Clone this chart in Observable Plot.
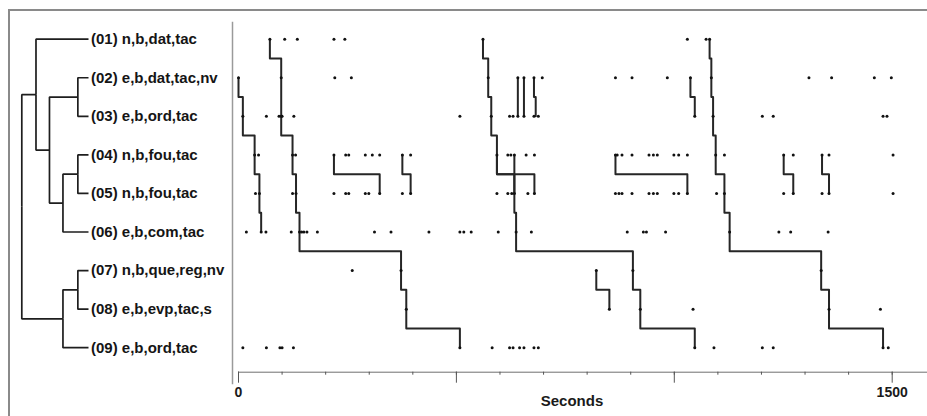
<!DOCTYPE html>
<html>
<head>
<meta charset="utf-8">
<script src="https://cdn.jsdelivr.net/npm/d3@7"></script>
<script src="https://cdn.jsdelivr.net/npm/@observablehq/plot@0.6"></script>
<style>
  html, body { margin: 0; padding: 0; background: #fff; }
  #chart { position: relative; width: 927px; height: 416px; overflow: hidden; background: #fff; }
  #chart .box { position: absolute; left: 8px; top: 9px; width: 1000px; height: 500px;
    border-left: 2px solid #8a8a8a; border-top: 2px solid #8a8a8a; pointer-events: none; }
  #chart svg { position: absolute; top: 0; }
</style>
</head>
<body>
<div id="chart"><div class="box"></div></div>
<script>
// Event types (one row each), in dendrogram order
const rowLabels = [
  "(01) n,b,dat,tac",
  "(02) e,b,dat,tac,nv",
  "(03) e,b,ord,tac",
  "(04) n,b,fou,tac",
  "(05) n,b,fou,tac",
  "(06) e,b,com,tac",
  "(07) n,b,que,reg,nv",
  "(08) e,b,evp,tac,s",
  "(09) e,b,ord,tac"
];

// Hierarchical clustering of the event types: child A, child B, merge height
const mergeIds    = ["A", "B", "C", "D", "E", "F", "G", "H"];
const mergeLeft   = [2, 4, 7, "B", "C", "A", 1, "G"];
const mergeRight  = [3, 5, 8, 6, 9, "D", "F", "E"];
const mergeHeight = [0.75, 0.75, 0.75, 1.8, 1.8, 2.75, 3.7, 4.7];

// Event occurrence times (seconds) for each row
const row01 = [72, 106, 135, 219, 244, 561, 1030, 1073, 1081];
const row02 = [0, 98, 221, 259, 573, 641, 655, 678, 697, 865, 903, 984, 1037, 1085, 1309, 1361, 1459, 1498];
const row03 = [10, 64, 93, 98, 100, 127, 508, 580, 622, 630, 641, 655, 678, 688, 1047, 1089, 1202, 1227, 1479, 1488];
const row04 = [37, 46, 124, 131, 219, 246, 253, 291, 307, 324, 376, 395, 593, 618, 625, 633, 660, 679,
               865, 869, 880, 903, 942, 952, 961, 999, 1010, 1030, 1095, 1115, 1251, 1273, 1339, 1355, 1502];
const row05 = [39, 48, 124, 132, 219, 246, 253, 291, 299, 324, 376, 395, 593, 618, 627, 633, 664, 679,
               865, 873, 880, 903, 942, 952, 961, 999, 1010, 1030, 1097, 1115, 1251, 1273, 1339, 1355, 1502];
const row06 = [18, 52, 63, 121, 140, 145, 150, 157, 181, 312, 350, 437, 508, 517, 534, 596, 637, 672,
               892, 929, 936, 980, 1127, 1240, 1267, 1353];
const row07 = [261, 373, 821, 905, 1337];
const row08 = [385, 851, 922, 1043, 1355, 1473];
const row09 = [10, 64, 95, 100, 126, 508, 582, 622, 630, 645, 655, 678, 688, 1047, 1091, 1202, 1227, 1479, 1491];
const rowEvents = [row01, row02, row03, row04, row05, row06, row07, row08, row09];

// Pattern occurrences: sequences of [row, time]
const occurrences = [
  [[2, 0], [3, 10], [4, 37], [5, 48], [6, 52]],
  [[1, 72], [2, 98], [3, 98], [4, 124], [5, 132], [6, 140], [7, 373], [8, 385], [9, 508]],
  [[1, 561], [2, 573], [3, 580], [4, 593], [5, 633], [6, 637], [7, 905], [8, 922], [9, 1047]],
  [[1, 1081], [2, 1085], [3, 1089], [4, 1095], [5, 1115], [6, 1127], [7, 1337], [8, 1355], [9, 1479]],
  [[2, 641], [3, 641]],
  [[2, 655], [3, 655]],
  [[2, 678], [3, 682]],
  [[2, 1037], [3, 1047]],
  [[4, 219], [5, 324]],
  [[4, 376], [5, 395]],
  [[4, 593], [5, 679]],
  [[4, 633], [5, 633]],
  [[4, 865], [5, 1030]],
  [[4, 1251], [5, 1273]],
  [[4, 1339], [5, 1355]],
  [[7, 821], [8, 851]]
];

// Axis ticks
const minorTicks = [0, 100, 200, 300, 400, 500, 600, 700, 800, 900, 1000, 1100, 1200, 1300, 1400, 1500];
const majorTicks = [0, 500, 1000, 1500];
const tickLabels = [0, 1500];
const xLabel = "Seconds";

const font = "'Liberation Sans', Arial, sans-serif";
const yScale = {domain: [1, 9], range: [38.7, 347.2], axis: null};

// ---- dendrogram ----
const nodes = new Map();
rowLabels.forEach((label, i) => nodes.set(i + 1, {h: 0, y: i + 1}));
const links = [];
mergeIds.forEach((id, i) => {
  const a = nodes.get(mergeLeft[i]), b = nodes.get(mergeRight[i]);
  const n = {h: mergeHeight[i], y: (a.y + b.y) / 2};
  nodes.set(id, n);
  links.push({x1: n.h, y1: n.y, x2: a.h, y2: a.y});
  links.push({x1: n.h, y1: n.y, x2: b.h, y2: b.y});
});
const leaves = rowLabels.map((label, i) => ({label, row: i + 1, h: 0}));

const tree = Plot.plot({
  width: 233, height: 416,
  marginLeft: 0, marginRight: 1, marginTop: 22, marginBottom: 33,
  x: {domain: [0, 4.7], range: [88, 21.3], axis: null},
  y: yScale,
  style: {fontFamily: font, background: "transparent", overflow: "visible"},
  marks: [
    Plot.frame({anchor: "right", stroke: "#9a9a9a", strokeWidth: 1.5}),
    Plot.link(links, {x1: "x1", y1: "y1", x2: "x2", y2: "y2", curve: "step-before",
      stroke: "#1e1e1e", strokeWidth: 1.7}),
    Plot.text(leaves, {x: "h", y: "row", text: "label", textAnchor: "start", dx: 2.5,
      fontSize: 15, fontWeight: "bold", fill: "#151515"})
  ]
});
tree.style.left = "0px";

// ---- event timeline ----
const events = rowEvents.flatMap((times, i) => times.map(t => ({row: i + 1, t})));
const pathPoints = [];
occurrences.forEach((occ, k) => {
  occ.forEach(([r, t], i) => {
    if (i === 0) pathPoints.push({k, t, y: r});
    else {
      const [rp, tp] = occ[i - 1];
      const m = (rp + r) / 2;
      pathPoints.push({k, t: tp, y: m}, {k, t, y: m});
    }
  });
  const [rl, tl] = occ[occ.length - 1];
  pathPoints.push({k, t: tl, y: rl});
});

const timeline = Plot.plot({
  width: 694, height: 416,
  marginLeft: 5, marginRight: 0, marginTop: 22, marginBottom: 44.3,
  x: {domain: [0, 1500], range: [5, 658.7]},
  y: yScale,
  style: {fontFamily: font, background: "transparent", overflow: "visible"},
  marks: [
    Plot.frame({anchor: "bottom", stroke: "#6e6e6e", strokeWidth: 1}),
    Plot.axisX({ticks: minorTicks, tickSize: 3, tickFormat: () => "", label: null, stroke: "#555"}),
    Plot.axisX({ticks: majorTicks, tickSize: 11, tickFormat: () => "", label: null, stroke: "#555"}),
    Plot.axisX({ticks: tickLabels, tickSize: 0, tickPadding: 15, tickFormat: d => String(d),
      label: null, fontSize: 14, fontWeight: "bold", fill: "#1a1a1a"}),
    Plot.line(pathPoints, {x: "t", y: "y", z: "k", stroke: "#262626", strokeWidth: 2}),
    Plot.dot(events, {x: "t", y: "row", r: 1.5, fill: "#111", stroke: "none"}),
    Plot.text([xLabel], {frameAnchor: "bottom", dy: 28.5, dx: -11, lineAnchor: "middle",
      fontSize: 15, fontWeight: "bold", fill: "#1a1a1a"})
  ]
});
timeline.style.left = "233px";

const chart = document.getElementById("chart");
chart.append(tree, timeline);
</script>
</body>
</html>
